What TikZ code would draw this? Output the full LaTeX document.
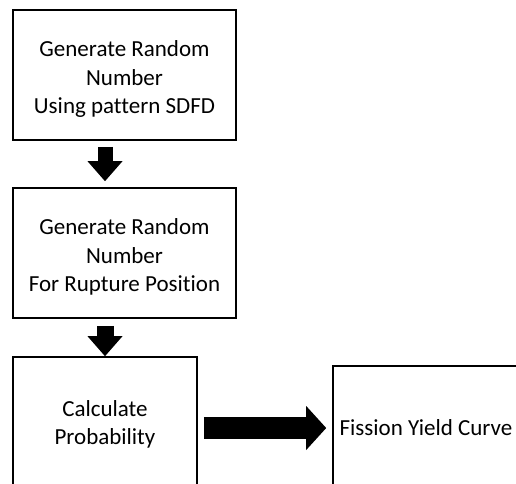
\documentclass[tikz,border=0pt]{standalone}
\usepackage{fontspec}
\setmainfont{Carlito}[Ligatures=NoCommon]
\usetikzlibrary{arrows.meta}
\newcommand\toppad{\rule{0pt}{24pt}}
\tikzset{
	procbox/.style={draw, line width=1.6pt, align=center, inner sep=0pt, font=\fontsize{23}{28.5}\selectfont},
	fatarrow/.style n args={2}{line width=#1, -{Triangle[width=#2, length=20pt, line width=0pt]}},
}

\begin{document}
\begin{tikzpicture}[x=1pt, y=-1pt]
	%%%%% START %%%%%
	\useasboundingbox (0, 0) rectangle (516, 483);
	\clip (0, 0) rectangle (516, 483);
	
	\node[procbox, minimum width=223pt, minimum height=130pt] (genSDFD) at (124.5, 75) {\toppad Generate Random\\Number\\Using pattern SDFD};
	\node[procbox, minimum width=223pt, minimum height=130pt] (genRupture) at (124.5, 253) {\toppad Generate Random\\Number\\For Rupture Position};
	\node[procbox, minimum width=184pt, minimum height=135pt] (calcProb) at (105, 424.5) {Calculate\\Probability};
	\node[procbox, minimum width=186pt, minimum height=124pt] (yieldCurve) at (426, 428) {Fission Yield Curve};
	
	\draw[fatarrow={15pt}{35pt}, shorten <=6pt, shorten >=6pt] (genSDFD.south -| calcProb.north) -- (genRupture.north -| calcProb.north);
	\draw[fatarrow={17pt}{35pt}, shorten <=7pt] (genRupture.south -| calcProb.north) -- (calcProb.north);
	\draw[fatarrow={22pt}{44pt}, shorten <=6pt, shorten >=6pt] (calcProb.east |- yieldCurve.west) -- (yieldCurve.west);
	%%%%% END %%%%%
\end{tikzpicture}
\end{document}
